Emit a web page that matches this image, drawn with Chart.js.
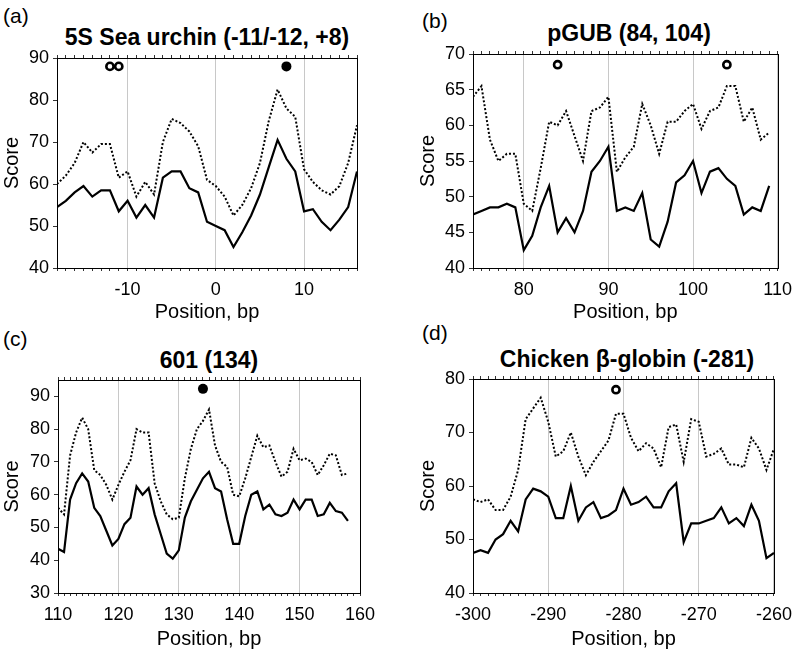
<!DOCTYPE html>
<html>
<head>
<meta charset="utf-8">
<script src="https://cdn.jsdelivr.net/npm/chart.js@4/dist/chart.umd.min.js"></script>
<style>
body { margin: 0; background: #fff; width: 800px; height: 654px; position: relative; overflow: hidden; font-family: "Liberation Sans", Arial, sans-serif; color: #000; }
canvas { position: absolute; }
.letter { position: absolute; font-size: 21px; line-height: 21px; }
.title { position: absolute; font-size: 23px; line-height: 23px; font-weight: bold; white-space: nowrap; transform: translateX(-50%); }
</style>
</head>
<body>
<div class="letter" style="left:3px;top:5px">(a)</div>
<div class="letter" style="left:422px;top:10px">(b)</div>
<div class="letter" style="left:3px;top:328px">(c)</div>
<div class="letter" style="left:422px;top:322px">(d)</div>
<div class="title" style="left:207px;top:26px">5S Sea urchin (-11/-12, +8)</div>
<div class="title" style="left:629px;top:22px">pGUB (84, 104)</div>
<div class="title" style="left:209px;top:349px">601 (134)</div>
<div class="title" style="left:627px;top:348px">Chicken β-globin (-281)</div>
<canvas id="chartA" width="400" height="327" style="left:0;top:0"></canvas>
<canvas id="chartB" width="400" height="327" style="left:400px;top:0"></canvas>
<canvas id="chartC" width="400" height="327" style="left:0;top:327px"></canvas>
<canvas id="chartD" width="400" height="327" style="left:400px;top:327px"></canvas>
<script>
// (a) 5S Sea urchin
const posA = [-18, -17, -16, -15, -14, -13, -12, -11, -10, -9, -8, -7, -6, -5, -4, -3, -2, -1, 0, 1, 2, 3, 4, 5, 6, 7, 8, 9, 10, 11, 12, 13, 14, 15, 16];
const dotA = [60, 62, 65, 70, 67.5, 69.5, 69.5, 61.5, 63, 57, 60.5, 57.5, 70, 75.5, 74.5, 72.5, 69, 61, 59.5, 57, 52.5, 55, 59, 65, 75, 82.5, 78, 76, 63.5, 60.5, 58.5, 57.5, 59.5, 65, 74];
const solidA = [54.5, 56, 58, 59.5, 57, 58.5, 58.5, 53.5, 56, 52, 55, 52, 61.5, 63, 63, 59, 58, 51, 50, 49, 45, 48.5, 52.5, 57.5, 64, 70.5, 66, 63, 53.5, 54, 51, 49, 51.5, 54.5, 63];
const openA = [[-12, 88], [-11, 88]];
const filledA = [[8, 88]];

// (b) pGUB
const posB = [74, 75, 76, 77, 78, 79, 80, 81, 82, 83, 84, 85, 86, 87, 88, 89, 90, 91, 92, 93, 94, 95, 96, 97, 98, 99, 100, 101, 102, 103, 104, 105, 106, 107, 108, 109];
const dotB = [64, 65.5, 58, 55, 56, 56, 49, 48, 54, 60.5, 60, 62, 58.5, 55, 62, 62.5, 64, 53.5, 55.5, 57, 63, 60, 56, 60.5, 60.5, 62, 63, 59.5, 62, 62.5, 65.5, 65.5, 60.5, 62.5, 58, 59];
const solidB = [47.5, 48, 48.5, 48.5, 49, 48.5, 42.5, 44.5, 48.5, 51.5, 45, 47, 45, 48, 53.5, 55, 57, 48, 48.5, 48, 50.5, 44, 43, 46.5, 52, 53, 55, 50.5, 53.5, 54, 52.5, 51.5, 47.5, 48.5, 48, 51.5];
const openB = [[84, 68.5], [104, 68.5]];
const filledB = [];

// (c) 601
const posC = [110, 111, 112, 113, 114, 115, 116, 117, 118, 119, 120, 121, 122, 123, 124, 125, 126, 127, 128, 129, 130, 131, 132, 133, 134, 135, 136, 137, 138, 139, 140, 141, 142, 143, 144, 145, 146, 147, 148, 149, 150, 151, 152, 153, 154, 155, 156, 157, 158];
const dotC = [56, 54, 72, 79, 83.5, 80, 67.5, 66, 63, 58.5, 63, 67, 70.5, 80, 79, 79, 63.5, 58, 54, 52.5, 53, 65, 74, 80, 82.5, 86, 75, 70, 68.5, 60, 59.5, 65, 71.5, 78, 74.5, 75, 70, 65.5, 67, 74, 70.5, 71, 70, 66, 69, 72.5, 72, 66, 66.5];
const solidC = [43.5, 42.5, 58.5, 63.5, 66.5, 64, 56, 53.5, 49, 44.5, 46.5, 51, 53, 62.5, 60, 62, 54, 48, 42, 40.5, 43, 53, 58, 61.5, 65, 67, 62, 61, 52.5, 45, 45, 53.5, 60, 61, 55.5, 57, 54, 53.5, 54.5, 58.5, 55.5, 58.5, 58.5, 53.5, 54, 57.5, 55, 54.5, 52];
const openC = [];
const filledC = [[134, 92.3]];

// (d) Chicken beta-globin
const posD = [-300, -299, -298, -297, -296, -295, -294, -293, -292, -291, -290, -289, -288, -287, -286, -285, -284, -283, -282, -281, -280, -279, -278, -277, -276, -275, -274, -273, -272, -271, -270, -269, -268, -267, -266, -265, -264, -263, -262, -261, -260];
const dotD = [57.5, 57, 57.5, 55.5, 55.5, 58, 63, 72.5, 74.5, 76.5, 72, 65.5, 66.5, 70, 65.5, 62, 64.5, 66.5, 68.5, 73.5, 73.5, 69, 66.5, 68, 67, 63.5, 71, 71.5, 64.5, 72.5, 72, 65.5, 66, 67, 64, 64, 63.5, 69, 67, 63, 67];
const solidD = [47.5, 48, 47.5, 50, 51, 53.5, 51.5, 57.5, 59.5, 59, 58, 54, 54, 60, 53.5, 56, 57, 54, 54.5, 55.5, 59.5, 56.5, 57, 58, 56, 56, 59, 60.5, 49.5, 53, 53, 53.5, 54, 56, 53, 54, 52.5, 56.5, 53.5, 46.5, 47.5];
const openD = [[-281, 78]];
const filledD = [];

const FONT = "'Liberation Sans', Arial, sans-serif";

// box round the plot area
const frame = {
    id: 'frame',
    afterDraw(chart) {
        const a = chart.chartArea;
        const ctx = chart.ctx;
        ctx.save();
        ctx.strokeStyle = '#000';
        ctx.lineWidth = 1;
        ctx.strokeRect(Math.round(a.left) + 0.5, Math.round(a.top) + 0.5, Math.round(a.right - a.left), Math.round(a.bottom - a.top));
        ctx.restore();
    }
};

function toPoints(xs, ys) {
    return xs.map((x, i) => ({ x: x, y: ys[i] }));
}

function marks(list) {
    return list.map(p => ({ x: p[0], y: p[1] }));
}

function makeChart(id, p) {
    new Chart(document.getElementById(id).getContext('2d'), {
        type: 'line',
        data: {
            datasets: [{
                data: toPoints(p.pos, p.dot),
                borderColor: '#000',
                borderWidth: 2,
                borderDash: [2, 2],
                pointRadius: 0,
                tension: 0
            }, {
                data: toPoints(p.pos, p.solid),
                borderColor: '#000',
                borderWidth: 2.2,
                pointRadius: 0,
                tension: 0
            }, {
                data: marks(p.open),
                showLine: false,
                pointRadius: 3.6,
                pointBorderWidth: 2.6,
                pointBackgroundColor: '#fff',
                pointBorderColor: '#000'
            }, {
                data: marks(p.filled),
                showLine: false,
                pointRadius: 5,
                pointBorderWidth: 0,
                pointBackgroundColor: '#000',
                pointBorderColor: '#000'
            }]
        },
        options: {
            responsive: false,
            animation: false,
            layout: { padding: { left: p.padLeft, top: p.top - 3, right: 400 - p.right, bottom: 0 } },
            plugins: { legend: { display: false }, tooltip: { enabled: false } },
            scales: {
                x: {
                    type: 'linear',
                    position: 'bottom',
                    min: p.xMin,
                    max: p.xMax,
                    afterFit: s => { s.height = p.bottomH; },
                    ticks: {
                        stepSize: 1,
                        autoSkip: false,
                        maxRotation: 0,
                        minRotation: 0,
                        padding: 8,
                        color: '#000',
                        font: { family: FONT, size: 18 },
                        callback: v => (v % 10 === 0 ? String(v) : '')
                    },
                    grid: {
                        color: c => (c.tick && c.tick.value % 10 === 0 ? '#c8c8c8' : 'rgba(0,0,0,0)'),
                        tickColor: '#333',
                        tickLength: 3
                    },
                    border: { color: '#000' },
                    title: { display: true, text: 'Position, bp', color: '#000', font: { family: FONT, size: 20 }, padding: { top: 0, bottom: 3 } }
                },
                x2: {
                    type: 'linear',
                    position: 'top',
                    min: p.xMin,
                    max: p.xMax,
                    afterFit: s => { s.height = 3; },
                    ticks: { stepSize: 1, autoSkip: false, display: false },
                    grid: { drawOnChartArea: false, tickColor: '#333', tickLength: 3 },
                    border: { color: '#000' }
                },
                y: {
                    min: p.yMin,
                    max: p.yMax,
                    afterFit: s => { s.width = p.yW; },
                    ticks: {
                        stepSize: p.yStep,
                        includeBounds: false,
                        padding: 4,
                        color: '#000',
                        font: { family: FONT, size: 18 }
                    },
                    grid: { drawOnChartArea: false, tickColor: '#333', tickLength: 4 },
                    border: { color: '#000' },
                    title: { display: true, text: 'Score', color: '#000', font: { family: FONT, size: 20 }, padding: 0 }
                }
            }
        },
        plugins: [frame]
    });
}

makeChart('chartA', { pos: posA, dot: dotA, solid: solidA, open: openA, filled: filledA,
    xMin: -18, xMax: 16, yMin: 40, yMax: 90, yStep: 10,
    padLeft: 0, yW: 57, top: 58, right: 357, bottomH: 59 });
makeChart('chartB', { pos: posB, dot: dotB, solid: solidB, open: openB, filled: filledB,
    xMin: 74, xMax: 110, yMin: 40, yMax: 70, yStep: 5,
    padLeft: 16, yW: 57, top: 54, right: 380, bottomH: 59 });
makeChart('chartC', { pos: posC, dot: dotC, solid: solidC, open: openC, filled: filledC,
    xMin: 110, xMax: 160, yMin: 30, yMax: 95, yStep: 10,
    padLeft: 0, yW: 58, top: 53, right: 360, bottomH: 61 });
makeChart('chartD', { pos: posD, dot: dotD, solid: solidD, open: openD, filled: filledD,
    xMin: -300, xMax: -260, yMin: 40, yMax: 80, yStep: 10,
    padLeft: 16, yW: 57, top: 52, right: 380, bottomH: 61 });
</script>
</body>
</html>
